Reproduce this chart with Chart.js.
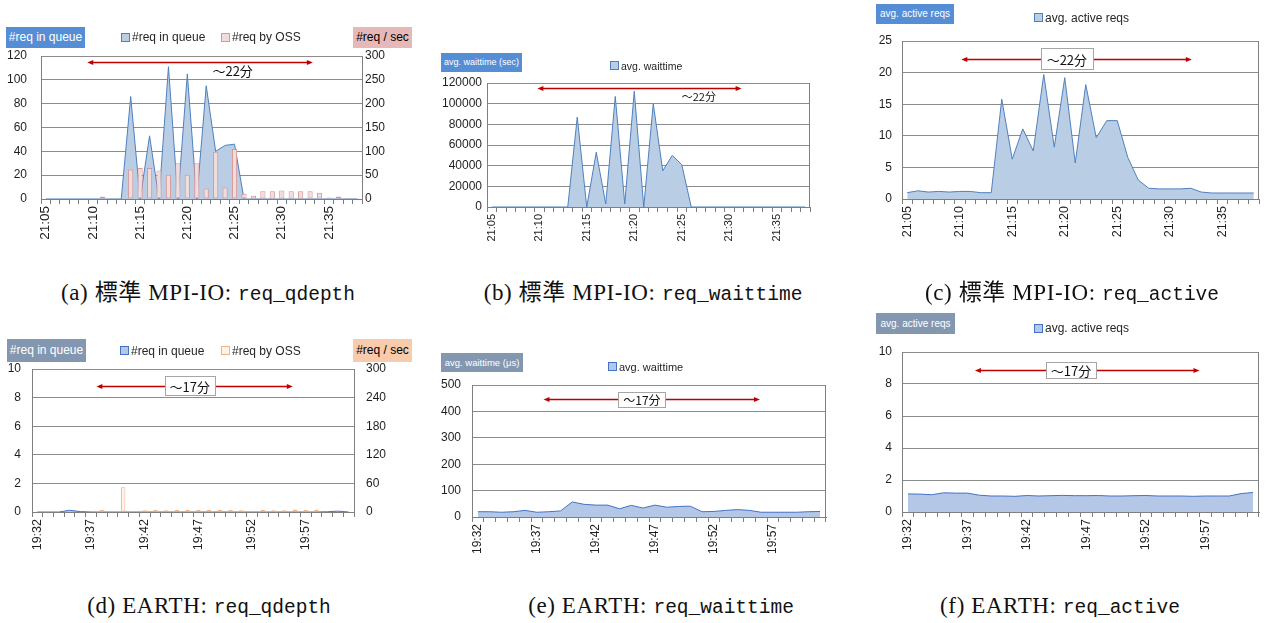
<!DOCTYPE html>
<html>
<head>
<meta charset="utf-8">
<script src="https://cdn.jsdelivr.net/npm/chart.js@4.4.1/dist/chart.umd.min.js"></script>
<style>
body { margin: 0; background: #fff; width: 1266px; height: 623px; position: relative; overflow: hidden; font-family: "Liberation Sans", Arial, sans-serif; }
canvas { position: absolute; }
.tag { position: absolute; white-space: nowrap; text-align: center; font-family: "Liberation Sans", Arial, sans-serif; }
.leg { position: absolute; white-space: nowrap; color: #262626; display: flex; align-items: center; }
.leg i { display: inline-block; width: 7px; height: 7px; border: 1px solid; margin-right: 2px; }
.cap { position: absolute; white-space: nowrap; transform: translateX(-50%); font-family: "Liberation Serif", "Noto Sans CJK JP", serif; font-size: 23px; letter-spacing: 0.6px; line-height: 26px; color: #111; }
.cap code { font-family: "Liberation Mono", monospace; font-size: 19.5px; letter-spacing: 0; }
</style>
</head>
<body>
<script>
// time axis labels
const timesStd = ['21:05','21:06','21:07','21:08','21:09','21:10','21:11','21:12','21:13','21:14',
  '21:15','21:16','21:17','21:18','21:19','21:20','21:21','21:22','21:23','21:24',
  '21:25','21:26','21:27','21:28','21:29','21:30','21:31','21:32','21:33','21:34',
  '21:35','21:36','21:37','21:38'];
const timesEarth = ['19:32','19:33','19:34','19:35','19:36','19:37','19:38','19:39','19:40','19:41',
  '19:42','19:43','19:44','19:45','19:46','19:47','19:48','19:49','19:50','19:51',
  '19:52','19:53','19:54','19:55','19:56','19:57','19:58','19:59','20:00','20:01'];

// standard MPI-IO
const stdQueue = [0,0,0,0,0,0,0,0,0,86,0,53,0,111,0,105,0,95,40,45,46,0,0,0,0,0,0,0,0,0,0,0,0,0];
const stdOss = [1,1,1,1,1,1,5,2,1,62,65,65,60,51,75,51,75,22,99,24,105,11,7,16,16,18,16,16,16,13,3,5,2,2];
const stdWait = [0,0,0,0,0,0,0,0,0,87000,0,53000,3000,107000,3000,112000,0,100000,35000,50000,41000,0,0,0,0,0,0,0,0,0,0,0,0,0];
const stdActive = [1.0,1.3,1.1,1.2,1.1,1.2,1.2,1.0,1.0,15.8,6.3,11.1,7.6,19.7,8.2,19.2,5.7,18.1,9.7,12.4,12.4,6.6,3.0,1.7,1.6,1.6,1.6,1.7,1.1,0.95,0.95,0.95,0.95,0.95];

// EARTH
const earthQueue = [0,0,0,0.12,0.03,0,0,0,0,0,0,0,0,0,0,0,0,0,0,0,0,0,0,0,0,0,0,0.02,0.06,0];
const earthOss = [1.5,1.5,1.5,1.5,1,1,4,2,52,2,3.5,4,3.5,4,4,4,4,4,4,3.5,2,4,3.5,3.5,5,4,5,2,1.5,1.5];
const earthWait = [20,20,18,20,25,18,20,23,57,48,45,45,31,44,34,45,37,40,41,20,21,25,28,25,18,18,18,18,20,21];
const earthActive = [1.13,1.12,1.08,1.2,1.18,1.18,1.05,1.0,1.0,0.98,1.03,1.0,1.02,1.04,1.02,1.02,1.03,1.0,1.0,1.02,1.03,1.0,1.0,1.0,0.98,1.0,1.0,1.0,1.15,1.22];

const GRID = '#8c8c8c', AXIS = '#7f7f7f', TXT = '#1e1e1e', RED = '#C00000';
const BLUE_FILL = '#B9CDE5', BLUE_LINE = '#4F81BD';
const BLUE2_FILL = '#B4C7E7', BLUE2_LINE = '#4472C4';

Chart.defaults.font.family = '"Liberation Sans", Arial, sans-serif';
Chart.defaults.color = TXT;

function spanPlugin(s) {
  return {
    id: 'span',
    afterDatasetsDraw(chart) {
      const ctx = chart.ctx, xs = chart.scales.x, ys = chart.scales.y;
      const x1 = xs.getPixelForValue(s.from), x2 = xs.getPixelForValue(s.to);
      const y = Math.round(ys.getPixelForValue(s.at)) + 0.5;
      ctx.save();
      ctx.strokeStyle = RED; ctx.fillStyle = RED; ctx.lineWidth = 1.3;
      ctx.beginPath(); ctx.moveTo(x1 + 3, y); ctx.lineTo(x2 - 3, y); ctx.stroke();
      [[x1, 1], [x2, -1]].forEach(function(h) {
        ctx.beginPath();
        ctx.moveTo(h[0], y);
        ctx.lineTo(h[0] + 6 * h[1], y - 2.5);
        ctx.lineTo(h[0] + 6 * h[1], y + 2.5);
        ctx.closePath(); ctx.fill();
      });
      const tx = xs.getPixelForValue(s.textAt), ty = ys.getPixelForValue(s.textY);
      if (s.box) {
        const bx = Math.round(tx - s.box[0] / 2) + 0.5, by = Math.round(ty - s.box[1] / 2) + 0.5;
        ctx.fillStyle = '#fff'; ctx.strokeStyle = '#a6a6a6'; ctx.lineWidth = 1;
        ctx.fillRect(bx, by, s.box[0], s.box[1]);
        ctx.strokeRect(bx, by, s.box[0], s.box[1]);
      }
      ctx.font = s.size + 'px "Noto Sans CJK JP", sans-serif';
      ctx.fillStyle = '#111'; ctx.textAlign = 'center'; ctx.textBaseline = 'middle';
      ctx.fillText(s.text, tx, ty + 1);
      ctx.restore();
    }
  };
}

// right edge of plot frame for single-axis panels
const framePlugin = {
  id: 'frame',
  afterDraw(chart) {
    const a = chart.chartArea, ctx = chart.ctx;
    ctx.save();
    ctx.strokeStyle = AXIS; ctx.lineWidth = 1;
    ctx.beginPath();
    ctx.moveTo(Math.round(a.right) - 0.5, a.top);
    ctx.lineTo(Math.round(a.right) - 0.5, a.bottom);
    ctx.stroke();
    ctx.restore();
  }
};

// top padding must exceed half a tick label plus tick padding
const PAD_TOP = 24;

function panel(p) {
  const c = document.createElement('canvas');
  c.width = p.w; c.height = p.h;
  c.style.left = p.x + 'px'; c.style.top = p.y + 'px';
  document.body.appendChild(c);

  const scales = {
    x: {
      offset: true,
      grid: { display: true, offset: true, drawOnChartArea: false, drawTicks: true, tickLength: 5, color: AXIS },
      border: { display: true, color: AXIS },
      ticks: {
        autoSkip: false, minRotation: 90, maxRotation: 90, padding: 2,
        font: { size: p.xFont },
        callback: function(v, i) { return i % 5 === 0 ? p.labels[i] : ''; }
      },
      afterFit: function(s) { s.height = p.xHeight; }
    },
    y: {
      position: 'left', min: 0, max: p.yMax,
      ticks: { stepSize: p.yStep, padding: p.yPad, font: { size: 12 }, callback: function(v) { return v; } },
      grid: { color: GRID, drawTicks: false },
      border: { display: true, color: AXIS },
      afterFit: function(s) { s.width = p.yWidth; }
    }
  };
  if (p.y1) {
    scales.y1 = {
      position: 'right', min: 0, max: p.y1.max,
      ticks: { stepSize: p.y1.step, padding: p.y1.pad, font: { size: 12 }, callback: function(v) { return v; } },
      grid: { drawOnChartArea: false, drawTicks: false },
      border: { display: true, color: AXIS },
      afterFit: function(s) { s.width = p.y1.width; }
    };
  }

  const plugins = [spanPlugin(p.span)];
  if (!p.y1) plugins.push(framePlugin);

  new Chart(c, {
    type: p.y1 ? 'bar' : 'line',
    data: { labels: p.labels, datasets: p.datasets },
    options: {
      responsive: false,
      animation: false,
      devicePixelRatio: 1,
      layout: { padding: { top: PAD_TOP, left: 0, right: p.padRight, bottom: 0 } },
      scales: scales,
      plugins: { legend: { display: false }, tooltip: { enabled: false } }
    },
    plugins: plugins
  });
}

function area(data, fill, line) {
  return {
    type: 'line', yAxisID: 'y', data: data, order: 1,
    fill: 'origin', backgroundColor: fill, borderColor: line, borderWidth: 1,
    pointRadius: 0, tension: 0
  };
}

function bars(data, fill, line, pct) {
  return {
    type: 'bar', yAxisID: 'y1', data: data, order: 0,
    backgroundColor: fill, borderColor: line, borderWidth: 1, borderSkipped: false,
    barPercentage: pct, categoryPercentage: 1
  };
}

function tag(x, y, w, h, bg, fg, size, text) {
  const d = document.createElement('div');
  d.className = 'tag';
  d.textContent = text;
  d.style.cssText = 'left:' + x + 'px;top:' + y + 'px;width:' + w + 'px;height:' + h + 'px;line-height:' + h +
    'px;background:' + bg + ';color:' + fg + ';font-size:' + size + 'px;';
  document.body.appendChild(d);
}

function legendItem(x, cy, fill, line, size, text) {
  const d = document.createElement('div');
  d.className = 'leg';
  d.style.cssText = 'left:' + x + 'px;top:' + (cy - 8) + 'px;height:16px;font-size:' + size + 'px;';
  d.innerHTML = '<i style="background:' + fill + ';border-color:' + line + '"></i>' + text;
  document.body.appendChild(d);
}

function caption(cx, cy, html) {
  const d = document.createElement('div');
  d.className = 'cap';
  d.style.left = cx + 'px';
  d.style.top = (cy - 13) + 'px';
  d.innerHTML = html;
  document.body.appendChild(d);
}

// (a)
panel({
  x: 0, y: 56 - PAD_TOP, w: 412, h: 199 - 56 + PAD_TOP + 50, padRight: 0, yWidth: 41, yPad: 14, xHeight: 50, xFont: 13.5,
  labels: timesStd, yMax: 120, yStep: 20,
  y1: { max: 300, step: 50, pad: 3, width: 50 },
  datasets: [area(stdQueue, BLUE_FILL, BLUE_LINE), bars(stdOss, '#F2DCDB', '#D99694', 0.55)],
  span: { from: 4.4, to: 28.3, at: 115, text: '〜22分', textAt: 19.8, textY: 108, size: 13 }
});
// (b)
panel({
  x: 430, y: 83 - PAD_TOP, w: 394, h: 207 - 83 + PAD_TOP + 40, padRight: 14, yWidth: 57, yPad: 5, xHeight: 40, xFont: 11,
  labels: timesStd, yMax: 120000, yStep: 20000,
  datasets: [area(stdWait, BLUE_FILL, BLUE_LINE)],
  span: { from: 4.8, to: 26.3, at: 114900, text: '〜22分', textAt: 21.8, textY: 107400, size: 11 }
});
// (c)
panel({
  x: 860, y: 41 - PAD_TOP, w: 413, h: 199 - 41 + PAD_TOP + 50, padRight: 14, yWidth: 42, yPad: 10, xHeight: 50, xFont: 12.5,
  labels: timesStd, yMax: 25, yStep: 5,
  datasets: [area(stdActive, BLUE_FILL, BLUE_LINE)],
  span: { from: 5.15, to: 27.1, at: 22.2, text: '〜22分', textAt: 15.2, textY: 22.2, size: 13, box: [52, 21] }
});
// (d)
panel({
  x: 0, y: 369 - PAD_TOP, w: 404, h: 512 - 369 + PAD_TOP + 50, padRight: 0, yWidth: 32, yPad: 11, xHeight: 50, xFont: 12.5,
  labels: timesEarth, yMax: 10, yStep: 2,
  y1: { max: 300, step: 60, pad: 12, width: 50 },
  datasets: [area(earthQueue, BLUE2_FILL, BLUE2_LINE), bars(earthOss, '#FEF4EC', '#F4B183', 0.4)],
  span: { from: 5.5, to: 23.8, at: 8.83, text: '〜17分', textAt: 14.2, textY: 8.83, size: 13, box: [50, 19] }
});
// (e)
panel({
  x: 430, y: 385 - PAD_TOP, w: 410, h: 517 - 385 + PAD_TOP + 45, padRight: 14, yWidth: 42, yPad: 11, xHeight: 45, xFont: 12,
  labels: timesEarth, yMax: 500, yStep: 100,
  datasets: [area(earthWait, BLUE2_FILL, BLUE2_LINE)],
  span: { from: 5.56, to: 23.9, at: 446, text: '〜17分', textAt: 13.9, textY: 446, size: 12, box: [47, 15] }
});
// (f)
panel({
  x: 860, y: 352 - PAD_TOP, w: 413, h: 512 - 352 + PAD_TOP + 50, padRight: 14, yWidth: 42, yPad: 10, xHeight: 50, xFont: 12.5,
  labels: timesEarth, yMax: 10, yStep: 2,
  datasets: [area(earthActive, BLUE2_FILL, BLUE2_LINE)],
  span: { from: 5.63, to: 24.5, at: 8.86, text: '〜17分', textAt: 13.7, textY: 8.86, size: 13, box: [50, 16] }
});

// axis title boxes
tag(6, 27, 79, 21, '#558ED5', '#fff', 12, '#req in queue');
tag(353, 27, 59, 21, '#E6B9B8', '#000', 12, '#req / sec');
tag(441, 53, 81, 19, '#558ED5', '#fff', 9, 'avg. waittime (sec)');
tag(876, 4, 78, 20, '#558ED5', '#fff', 10, 'avg. active reqs');
tag(7, 339, 79, 23, '#8497B0', '#fff', 12, '#req in queue');
tag(353, 339, 59, 23, '#F8CBAD', '#000', 12, '#req / sec');
tag(441, 353, 82, 19, '#8497B0', '#fff', 9.5, 'avg. waittime (μs)');
tag(876, 313, 79, 21, '#8497B0', '#fff', 10, 'avg. active reqs');

// legends
legendItem(121, 37, BLUE_FILL, BLUE_LINE, 12, '#req in queue');
legendItem(221, 37, '#F2DCDB', '#D99694', 12, '#req by OSS');
legendItem(610, 65.5, BLUE_FILL, BLUE_LINE, 10.5, 'avg. waittime');
legendItem(1034, 17.5, BLUE_FILL, BLUE_LINE, 12, 'avg. active reqs');
legendItem(120, 350.5, BLUE2_FILL, BLUE2_LINE, 12, '#req in queue');
legendItem(221, 350.5, '#FEF4EC', '#F4B183', 12, '#req by OSS');
legendItem(608, 366.5, BLUE2_FILL, BLUE2_LINE, 11, 'avg. waittime');
legendItem(1034, 328, BLUE2_FILL, BLUE2_LINE, 12, 'avg. active reqs');

// captions (centred)
caption(208, 293, '(a) 標準 MPI-IO: <code>req_qdepth</code>');
caption(643, 293, '(b) 標準 MPI-IO: <code>req_waittime</code>');
caption(1072, 293, '(c) 標準 MPI-IO: <code>req_active</code>');
caption(209, 606, '(d) EARTH: <code>req_qdepth</code>');
caption(661, 606, '(e) EARTH: <code>req_waittime</code>');
caption(1060, 606, '(f) EARTH: <code>req_active</code>');
</script>
</body>
</html>
